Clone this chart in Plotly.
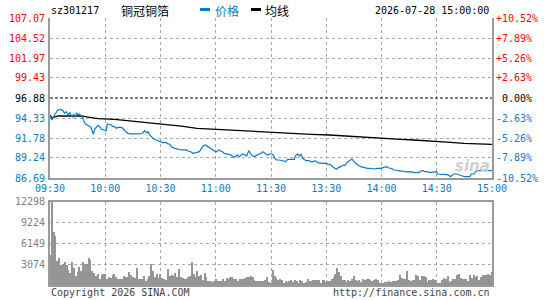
import plotly.graph_objects as go

# ---------------- data ----------------
prev_close = 96.88
price_ticks = [107.07, 104.52, 101.97, 99.43, 96.88, 94.33, 91.78, 89.24, 86.69]
pct_labels = ["+10.52%", "+7.89%", "+5.26%", "+2.63%", "0.00%", "-2.63%", "-5.26%", "-7.89%", "-10.52%"]
time_ticks = [0, 30, 60, 90, 120, 150, 180, 210, 240]
time_labels = ["09:30", "10:00", "10:30", "11:00", "11:30", "13:30", "14:00", "14:30", "15:00"]
vol_ticks = [3074, 6149, 9224, 12298]

# price (minute index, price)
price_t = [0, 1, 2.5, 4.3, 5.8, 7.1, 8, 8.9, 9.8, 10.7, 11.6, 12.5, 13, 13.8, 14.5, 15.2, 16.1, 17,
           17.9, 18.5, 19.2, 20.3, 21, 22.1, 22.8, 23.5, 24.2, 25.2, 26.1, 27, 27.9, 29.3, 30.6, 31.1,
           32.4, 33.3, 34.2, 35.1, 36, 36.9, 38.7, 39.6, 40.5, 41.6, 42.3, 44.2, 45.6, 46.9, 48.7,
           50.5, 51.4, 52.3, 53.2, 54.1, 55, 56.5, 57.7, 59.5, 61.3, 63.2, 64.1, 65, 65.9, 67.7, 69.5,
           71.3, 73.1, 74, 74.9, 76.4, 77.6, 78.5,
           79.3, 81.1, 82.0, 83.2, 84.3, 85.6, 86.5, 87.4, 88.3, 89.2, 90.1, 91.0, 91.9, 92.8, 93.7,
           94.6, 96.5, 98.3, 99.2, 100.1, 101.0, 101.9, 102.8, 103.7, 104.6, 106.0, 106.8, 107.9,
           108.6, 109.1, 110.0, 110.9, 111.8, 112.7, 114.6, 115.5, 116.4, 117.3, 118.2, 119.1, 120.5,
           121.3, 122.0, 123.1, 124.5, 126.0, 127.2, 128.1, 129.0, 130.8, 132.7, 133.2, 134.5, 135.4,
           136.3, 137.2, 138.1, 139.0, 140.8, 141.7, 143.0, 144.1, 145.3, 146.6, 148.0, 149.8, 151.7,
           152.6, 153.5, 154.9, 155.6, 156.7, 158.0, 158.9, 160.2,
           161.1, 162.3, 163.2, 164.0, 164.7, 165.9, 167.2, 168.7, 170.5, 172.3, 174.1, 175.9, 177.7,
           179.5, 181.3, 182.8, 184.0, 185.3, 186.8, 188.6, 190.4, 192.2, 194.0, 195.8, 197.6, 199.1,
           200.3, 201.2, 202.7, 203.4, 204.9, 206.3, 207.6, 208.8, 209.9, 210.6, 212.1, 213.9, 215.7,
           216.6, 217.5, 218.4, 219.3, 220.8, 222.0, 223.9, 225.1, 225.8, 226.9, 228.0, 228.7, 230.2,
           231.1, 232.0, 233.8, 235.6, 240]
price_v = [94.72, 94.08, 94.72, 95.35, 95.44, 95.27, 94.93, 95.14, 94.72, 95.01, 94.59, 94.42, 94.84,
           94.42, 95.01, 94.72, 94.84, 94.59, 94.29, 93.87, 93.57, 93.44, 93.31, 93.23, 92.80, 92.25,
           92.89, 93.23, 93.40, 93.23, 92.89, 92.80, 92.72, 93.57, 93.44, 93.44, 93.23, 93.23, 93.02,
           93.14, 93.14, 93.02, 92.72, 92.46, 92.38, 92.30, 92.30, 92.38, 92.30, 92.46, 92.72, 92.46,
           92.59, 92.17, 91.96, 91.62, 91.53, 91.32, 91.19, 91.19, 91.02, 91.02, 90.68, 90.47, 90.34,
           90.26, 90.26, 90.26, 90.13, 90.04, 89.83, 89.83,
           89.92, 90.04, 90.34, 90.77, 90.89, 90.68, 90.55, 90.34, 90.26, 90.04, 90.00, 90.13, 90.26,
           90.09, 90.04, 89.83, 89.75, 89.62, 89.41, 89.32, 89.49, 89.62, 89.41, 89.62, 89.75, 89.62,
           89.49, 90.17, 89.83, 89.75, 89.49, 89.41, 89.54, 89.62, 89.83, 90.04, 89.83, 89.75, 89.62,
           89.75, 89.75, 89.62, 89.20, 88.98, 88.98, 88.90, 88.81, 88.77, 89.07, 89.07, 89.07, 89.49,
           89.75, 89.49, 89.70, 89.20, 89.07, 88.90, 88.90, 88.77, 88.77, 88.90, 88.64, 88.56, 88.56,
           88.56, 88.47, 88.35, 88.13, 87.92, 87.80, 88.05, 88.13, 88.30, 88.30,
           88.64, 88.90, 88.98, 89.11, 88.90, 88.56, 88.35, 88.13, 88.05, 87.92, 87.92, 87.84, 87.92,
           87.92, 88.05, 88.13, 87.96, 87.92, 87.71, 87.63, 87.58, 87.54, 87.46, 87.50, 87.37, 87.37,
           87.37, 87.58, 87.63, 87.50, 87.50, 87.37, 87.41, 87.50, 87.50, 87.20, 87.20, 87.12, 87.12,
           87.03, 86.86, 87.07, 87.20, 87.20, 87.07, 86.95, 86.86, 86.86, 86.78, 86.86, 87.20, 87.20,
           87.50, 87.63, 87.63, 87.63, 87.63]

# average price line (minute index, price)
avg_t = [0, 1, 4.3, 17, 21.5, 26.1, 35.1, 44.2, 53.2, 62.2, 71.3, 79.8, 89.2, 98.3, 107.3, 116.4,
         126.3, 141.7, 151.7, 160.2, 168.7, 180.4, 190.4, 197.6, 209.4, 217.5, 224.8, 232.0, 240]
avg_v = [94.72, 94.35, 94.59, 94.59, 94.42, 94.25, 94.16, 93.95, 93.74, 93.57, 93.31, 93.02, 92.89,
         92.76, 92.63, 92.51, 92.38, 92.25, 92.17, 92.04, 91.87, 91.74, 91.62, 91.53, 91.40, 91.23,
         91.11, 91.02, 90.98]

vol_morning = [4500, 12298, 7900, 7250, 3600, 4000, 3000, 3200, 3400, 3000,
               2300, 1800, 3400, 2600, 1400, 2000, 2700, 2100, 3400, 3100,
               3100, 4000, 3700, 2200, 1900, 1400, 1700, 900, 1600, 1700,
               1700,
               1000, 1300, 1100, 1600, 1700, 1200, 1000, 1000, 1000, 1400, 1200,
               1300, 2000, 1600, 1200, 1100, 2600, 1000, 900, 1000, 1400,
               700, 1000, 1400, 3100, 2100, 1200, 1700, 1100, 1700, 1100, 900,
               800, 2500, 1400, 1600, 1400, 1900, 1300, 2400, 1300, 1100,
               900, 900, 1200, 1400, 3400, 1700, 1200, 2100, 1400, 1500, 800,
               1900, 1200, 700, 650, 550, 650, 1000, 650, 650, 700,
               900, 650, 1100, 1000, 1200, 1300, 1000, 900, 700, 1000, 1000,
               1000, 1100, 1200, 1200, 1400, 1200, 850, 650, 700, 650,
               700, 650, 850, 1300, 450, 300]
vol_afternoon = [2210, 1330, 1130, 740, 1030, 740, 440, 640, 540, 640,
                 740, 540, 740, 640, 440, 740, 600, 440, 540, 1030, 640,
                 640, 740, 740, 740, 740, 440, 840, 840, 540, 700, 600,
                 930, 1230, 1720, 2510, 1920, 1330, 840, 840, 540, 840, 700,
                 930, 1330, 740, 640, 740, 540, 1030, 840, 1030, 1030, 800,
                 640, 840, 1030, 840, 440, 440, 440, 540, 500, 640, 540,
                 640, 640, 640, 740, 1530, 1130, 930, 1030, 2120, 740, 640,
                 840, 740, 1530, 1430, 740, 1330, 1330, 1230, 540, 840, 740,
                 930, 740, 440, 440, 440, 740, 1130, 1030, 1430, 540, 640,
                 930, 930, 1530, 1720, 1130, 930, 1030, 1030, 640, 1530, 1130,
                 1620, 1230, 1330, 840, 1230, 1620, 1530, 1530, 1720, 1620, 1920]

# ---------------- styling ----------------
W, H = 545, 300
X0, X1 = 50 / W, 492 / W
P_BOT, P_TOP = 1 - 178 / H, 1 - 18 / H
V_BOT, V_TOP = 1 - 285 / H, 1 - 201.5 / H
MONO = "DejaVu Sans Mono"
CJK = "Noto Sans CJK SC"
BLUE = "#0a7acc"
RED = "#ff0000"
GRID = "#a8a8a8"
AXIS = "#9a9a9a"

vol = vol_morning + vol_afternoon
vol_x = list(range(len(vol)))

fig = go.Figure()
fig.add_trace(go.Scatter(x=avg_t, y=avg_v, mode="lines", line=dict(color="#000000", width=1.3),
                         xaxis="x", yaxis="y", hoverinfo="skip"))
fig.add_trace(go.Scatter(x=price_t, y=price_v, mode="lines", line=dict(color=BLUE, width=1.2),
                         xaxis="x", yaxis="y", hoverinfo="skip"))
fig.add_trace(go.Bar(x=vol_x, y=vol, width=0.6, marker=dict(color="#959595", line=dict(width=0)),
                     xaxis="x2", yaxis="y2", hoverinfo="skip"))

# interior gridlines (top edge has no line; prev close gets its own dashed line)
grid_prices = [p for p in price_ticks[1:] if p != prev_close]

common = dict(showgrid=True, gridcolor=GRID, griddash="dot", gridwidth=1, showline=True,
              linecolor=AXIS, linewidth=1.5, zeroline=False, ticks="", automargin=False)

fig.update_layout(
    width=W, height=H, margin=dict(l=0, r=0, t=0, b=0, autoexpand=False),
    paper_bgcolor="white", plot_bgcolor="white", showlegend=False, bargap=0,
    xaxis=dict(domain=[X0, X1], range=[0, 240], anchor="y", tickmode="array",
               tickvals=time_ticks, ticktext=time_labels,
               tickfont=dict(family=MONO, size=10, color=BLUE), **common),
    yaxis=dict(domain=[P_BOT, P_TOP], range=[price_ticks[-1], price_ticks[0]], anchor="x",
               tickmode="array", tickvals=grid_prices, showticklabels=False, mirror=True, **common),
    xaxis2=dict(domain=[X0, X1], range=[0, 240], anchor="y2", tickmode="array",
                tickvals=time_ticks, showticklabels=False, mirror=True, **common),
    yaxis2=dict(domain=[V_BOT, V_TOP], range=[0, vol_ticks[-1]], anchor="x2",
                tickmode="array", tickvals=vol_ticks, showticklabels=False, mirror=True, **common),
)

# previous close dashed line
fig.add_shape(type="line", xref="x", yref="y", x0=0, x1=240, y0=prev_close, y1=prev_close,
              line=dict(color="#000000", width=1, dash="3px,2px"))

ann = []
for p, lab in zip(price_ticks, pct_labels):
    col = RED if p > prev_close else ("#000000" if p == prev_close else BLUE)
    ann.append(dict(x=47 / W, xref="paper", y=p, yref="y", text=f"{p:.2f}", xanchor="right",
                    yanchor="middle", showarrow=False, font=dict(family=MONO, size=10, color=col)))
    txt = ("\u00a0" + lab) if p == prev_close else lab
    ann.append(dict(x=494 / W, xref="paper", y=p, yref="y", text=txt, xanchor="left",
                    yanchor="middle", showarrow=False, font=dict(family=MONO, size=10, color=col)))
for v in vol_ticks:
    ann.append(dict(x=47 / W, xref="paper", y=v, yref="y2", text=str(v), xanchor="right",
                    yanchor="middle", showarrow=False, font=dict(family=MONO, size=10, color="#808080")))

HY = 1 - 11 / H
ann += [
    dict(x=49 / W, y=HY, xref="paper", yref="paper", text="sz301217", xanchor="left", yanchor="middle",
         showarrow=False, font=dict(family=MONO, size=10, color="#000000")),
    dict(x=119 / W, y=HY, xref="paper", yref="paper", text="铜冠铜箔", xanchor="left", yanchor="middle",
         showarrow=False, font=dict(family=CJK, size=12, color="#000000")),
    dict(x=213 / W, y=HY, xref="paper", yref="paper", text="价格", xanchor="left", yanchor="middle",
         showarrow=False, font=dict(family=CJK, size=12, color=BLUE)),
    dict(x=263 / W, y=HY, xref="paper", yref="paper", text="均线", xanchor="left", yanchor="middle",
         showarrow=False, font=dict(family=CJK, size=12, color="#000000")),
    dict(x=491 / W, y=HY, xref="paper", yref="paper", text="2026-07-28 15:00:00", xanchor="right",
         yanchor="middle", showarrow=False, font=dict(family=MONO, size=10, color="#000000")),
    dict(x=49 / W, y=1 - 292 / H, xref="paper", yref="paper", text="Copyright 2026 SINA.COM",
         xanchor="left", yanchor="middle", showarrow=False, font=dict(family=MONO, size=10, color="#444444")),
    dict(x=492 / W, y=1 - 292 / H, xref="paper", yref="paper", text="http://finance.sina.com.cn",
         xanchor="right", yanchor="middle", showarrow=False, font=dict(family=MONO, size=10, color="#444444")),
    dict(x=472 / W, y=1 - 166 / H, xref="paper", yref="paper", text="sina", xanchor="center",
         yanchor="middle", showarrow=False,
         font=dict(family="DejaVu Sans", size=15, color="#cfcfcf", weight="bold", style="italic")),
]
fig.update_layout(annotations=ann)

# legend swatches
fig.add_shape(type="line", xref="paper", yref="paper", x0=200 / W, x1=210 / W, y0=1 - 9.5 / H, y1=1 - 9.5 / H,
              line=dict(color=BLUE, width=3))
fig.add_shape(type="line", xref="paper", yref="paper", x0=251 / W, x1=261 / W, y0=1 - 9.5 / H, y1=1 - 9.5 / H,
              line=dict(color="#000000", width=3))

fig.write_html("out.html")
